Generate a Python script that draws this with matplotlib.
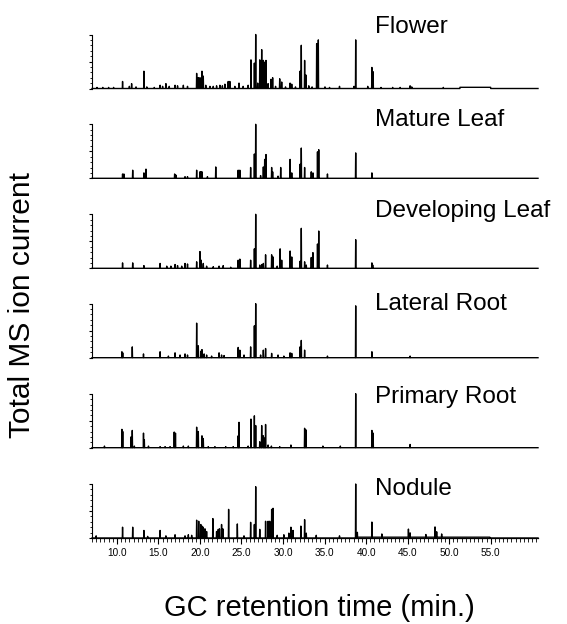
import numpy as np
from matplotlib import pyplot as plt
from matplotlib.ticker import MultipleLocator, FormatStrFormatter

# Peak lists (retention time in min, relative height)
names = ['Flower', 'Mature Leaf', 'Developing Leaf', 'Lateral Root', 'Primary Root', 'Nodule']

flower_t = [7.6, 8.3, 9.0, 9.6, 10.68, 11.5, 11.77, 12.3, 13.25, 13.6, 14.5, 15.2, 15.5, 15.9,
            16.3, 17.0, 17.3, 18.0, 18.5, 19.6, 19.8, 20.0, 20.24, 20.4, 20.7, 21.2, 21.6, 22.0,
            22.4, 22.7, 23.0, 23.4, 23.6, 24.2, 24.7, 25.2, 25.8, 26.14, 26.55, 26.71, 26.95, 27.2,
            27.3, 27.43, 27.53, 27.63, 27.73, 27.83, 27.95, 28.2, 28.55, 28.75, 29.1, 29.6, 29.84,
            30.3, 30.85, 31.05, 31.5, 32.05, 32.2, 32.6, 32.76, 33.1, 33.5, 34.05, 34.25, 35.05,
            35.6, 36.8, 38.55, 38.75, 40.2, 40.7, 40.85, 41.8, 43.2, 44.1, 45.3, 45.5, 49.3]
flower_h = [.02, .02, .02, .02, .13, .04, .09, .03, .32, .03, .02, .06, .04, .09,
            .04, .06, .05, .06, .04, .28, .20, .20, .32, .23, .06, .04, .04, .05,
            .06, .05, .08, .13, .13, .04, .10, .04, .06, .53, .47, 1.0, .10, .53,
            .45, .72, .50, .52, .40, .49, .52, .09, .17, .20, .04, .18, .12,
            .03, .10, .08, .03, .32, .80, .52, .25, .05, .03, .83, .90, .03,
            .02, .04, .04, .90, .04, .39, .31, .02, .02, .02, .05, .03, .02]

mature_t = [10.68, 10.84, 11.9, 13.25, 13.5, 16.95, 17.1, 18.2, 18.5, 19.6, 20.0, 20.1, 20.24,
            20.9, 21.9, 24.6, 24.8, 26.1, 26.55, 26.71, 27.3, 27.63, 27.79, 27.95, 28.63, 28.75,
            29.4, 29.72, 30.85, 31.05, 32.05, 32.2, 32.6, 33.4, 33.6, 34.15, 34.3, 35.35, 38.75,
            40.7]
mature_h = [.08, .08, .15, .10, .17, .08, .06, .03, .03, .15, .12, .12, .12,
            .03, .21, .15, .15, .20, .45, 1.0, .05, .21, .35, .44, .20, .12,
            .04, .20, .35, .10, .26, .56, .20, .12, .10, .49, .53, .08, .47,
            .10]

develop_t = [10.68, 11.9, 13.25, 15.2, 16.0, 16.5, 17.0, 17.3, 17.8, 18.2, 18.5, 19.6, 20.0,
             20.15, 20.4, 20.8, 21.6, 22.3, 22.8, 23.7, 24.6, 24.8, 26.1, 26.55, 26.71, 27.2,
             27.45, 27.63, 27.9, 28.63, 28.8, 29.3, 29.65, 29.84, 30.85, 31.05, 32.05, 32.2,
             32.6, 32.8, 33.4, 33.6, 34.15, 34.3, 35.35, 38.75, 40.7, 40.8]
develop_h = [.10, .10, .05, .09, .04, .04, .07, .05, .04, .09, .08, .12, .31,
             .15, .09, .04, .03, .04, .05, .02, .15, .17, .15, .36, 1.0, .06,
             .07, .09, .25, .25, .21, .04, .36, .15, .32, .21, .13, .74,
             .12, .06, .20, .29, .45, .69, .06, .53, .10, .06]

lateral_t = [10.6, 10.7, 11.85, 13.2, 15.2, 16.2, 17.0, 17.6, 18.2, 18.5, 19.6, 19.8, 20.1,
             20.24, 20.5, 20.8, 21.4, 22.3, 22.6, 22.9, 24.6, 24.8, 25.3, 26.1, 26.55, 26.71,
             27.3, 27.63, 27.9, 28.63, 29.4, 30.1, 30.85, 31.05, 32.05, 32.2, 32.6, 35.35, 38.75,
             40.7, 45.3]
lateral_h = [.11, .09, .20, .07, .11, .03, .09, .05, .07, .05, .64, .22, .12,
             .15, .07, .05, .03, .09, .05, .04, .19, .14, .05, .20, .59, 1.0,
             .05, .14, .17, .08, .05, .03, .09, .08, .20, .32, .14, .03, .96,
             .11, .03]

primary_t = [8.5, 10.6, 10.7, 11.7, 11.85, 12.1, 13.2, 13.3, 13.8, 15.2, 15.8, 16.4, 16.9,
             17.05, 18.0, 18.6, 19.6, 19.8, 20.24, 20.4, 21.0, 21.8, 23.1, 24.0, 24.6, 24.7,
             25.8, 26.14, 26.55, 26.71, 27.2, 27.43, 27.63, 27.75, 27.9, 28.2, 28.6, 29.6,
             30.95, 32.6, 32.76, 34.8, 36.9, 38.75, 40.7, 40.85, 45.3]
primary_h = [.03, .34, .30, .20, .32, .03, .27, .15, .03, .02, .02, .02, .29,
             .27, .03, .03, .38, .30, .22, .17, .02, .02, .02, .02, .22, .47,
             .03, .53, .59, .41, .11, .41, .22, .18, .43, .05, .03, .02,
             .05, .36, .33, .03, .03, 1.0, .32, .27, .06]

nodule_t = [7.5, 10.68, 11.9, 13.25, 13.7, 15.2, 15.9, 17.0, 18.2, 18.6, 19.0, 19.6, 19.85,
            20.1, 20.24, 20.4, 20.6, 20.8, 21.55, 22.0, 22.2, 22.35, 22.6, 22.75, 23.45, 24.5,
            25.3, 26.1, 26.55, 26.71, 27.2, 27.9, 28.2, 28.4, 28.63, 28.8, 29.3, 30.1, 30.7,
            30.95, 31.2, 32.15, 32.6, 32.8, 34.0, 36.8, 38.75, 38.95, 40.7, 41.9, 45.1, 45.3,
            47.2, 48.3, 48.5, 49.1]
nodule_h = [.04, .20, .20, .14, .03, .14, .04, .06, .04, .06, .05, .33, .31,
            .25, .22, .20, .17, .12, .36, .12, .16, .17, .25, .17, .53, .26,
            .04, .29, .25, .95, .16, .31, .31, .31, .53, .55, .05, .06, .09,
            .20, .14, .22, .34, .09, .05, .04, 1.0, .09, .28, .06, .15, .08,
            .05, .19, .10, .06]

peaks_t = [flower_t, mature_t, develop_t, lateral_t, primary_t, nodule_t]
peaks_h = [flower_h, mature_h, develop_h, lateral_h, primary_h, nodule_h]

# slightly raised baseline stretches (start, end, level)
humps = [[(51.3, 55.0, 0.022)], [], [], [], [], [(38.9, 54.9, 0.015)]]

# layout in pixels of the 567x624 picture
W, H = 567, 624
X0, X1 = 92, 538
baselines = [88.5, 178.3, 268.3, 357.7, 447.7, 538.0]
label_base = [33, 126, 217, 310, 403, 495]
PANEL_H = 54
XMIN, XMAX = 7.0, 60.7

fig = plt.figure(figsize=(W / 100, H / 100), dpi=100)
plt.rcParams['font.family'] = ['Liberation Sans', 'DejaVu Sans']


def base_level(t, hl):
    for (a, b, lvl) in hl:
        if a <= t <= b:
            return lvl
    return 0.0


for i in range(6):
    ax = fig.add_axes([X0 / W, 1 - baselines[i] / H, (X1 - X0) / W, PANEL_H / H])

    # build a chromatogram trace from the peak list and raised stretches
    w = 0.03
    pts = [(XMIN, 0.0)]
    for (a, b, lvl) in humps[i]:
        pts += [(a, 0.0), (a + 1e-6, lvl), (b - 1e-6, lvl), (b, 0.0)]
    for t, h in zip(peaks_t[i], peaks_h[i]):
        b0 = base_level(t, humps[i])
        pts += [(t - w, b0), (t, b0 + h), (t + w, b0)]
    pts.append((XMAX, 0.0))
    pts.sort(key=lambda p: p[0])
    xs = [p[0] for p in pts]
    ys = [p[1] for p in pts]
    ax.plot(xs, ys, color='black', lw=1.0, clip_on=False)

    ax.set_xlim(XMIN, XMAX)
    ax.set_ylim(0, 1.0)
    ax.spines['top'].set_visible(False)
    ax.spines['right'].set_visible(False)
    ax.spines['left'].set_linewidth(0.8)
    ax.set_yticks([0, 0.5, 1.0])
    ax.yaxis.set_minor_locator(MultipleLocator(0.1))
    ax.set_yticklabels([])
    ax.tick_params(axis='y', which='major', length=2.5, width=0.8)
    ax.tick_params(axis='y', which='minor', length=1.5, width=0.6)

    if i < 5:
        ax.spines['bottom'].set_visible(False)
        ax.set_xticks([])
    else:
        ax.spines['bottom'].set_linewidth(0.9)
        ax.set_xticks(np.arange(10, 56, 5))
        ax.xaxis.set_minor_locator(MultipleLocator(0.5))
        ax.xaxis.set_major_formatter(FormatStrFormatter('%.1f'))
        ax.tick_params(axis='x', which='major', length=4.3, width=0.8, pad=3.0,
                       labelsize=7.2)
        ax.tick_params(axis='x', which='minor', length=2.6, width=0.6)
        for lab in ax.get_xticklabels():
            lab.set_family(['Liberation Sans Narrow', 'Liberation Sans'])

    fig.text(375 / W, 1 - label_base[i] / H, names[i], fontsize=17.5,
             ha='left', va='baseline')

fig.text(22 / W, 1 - 305 / H, 'Total MS ion current', fontsize=21.5,
         rotation=90, ha='center', va='center')
fig.text(319 / W, 1 - 608 / H, 'GC retention time (min.)', fontsize=21,
         ha='center', va='center')

plt.savefig('out.png', dpi=100)
